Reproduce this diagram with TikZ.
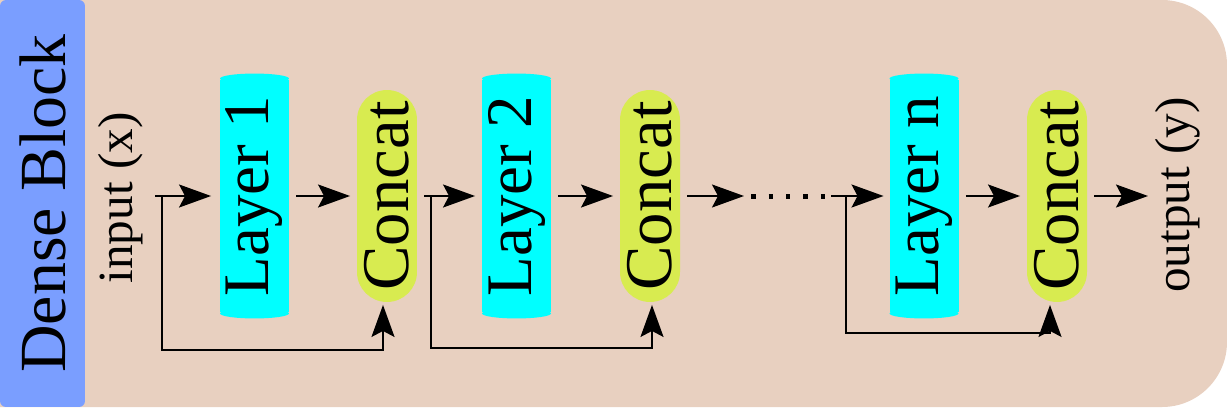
\documentclass[tikz,border=0pt]{standalone}
\usepackage{fontspec}
\setmainfont{Liberation Serif}
\usepackage{tikz}
\usetikzlibrary{arrows.meta,calc}

\definecolor{blockbg}{RGB}{232,208,192}
\definecolor{tabblue}{RGB}{122,158,255}
\definecolor{concatgreen}{RGB}{216,235,80}
\definecolor{layercyan}{RGB}{0,255,255}

\begin{document}
\begin{tikzpicture}[x=0.02cm, y=0.02cm, line width=1.1pt,
    >={Stealth[length=0.64cm,width=0.46cm,inset=0.12cm]},
    layer/.style={fill=layercyan, minimum width=1.38cm, minimum height=4.66cm, inner sep=0pt, font=\fontsize{37}{40}\selectfont},
    concat/.style={fill=concatgreen, rounded corners=0.6cm, minimum width=1.2cm, minimum height=4.24cm, inner sep=0pt, font=\fontsize{38}{40}\selectfont},
    lbl/.style={rotate=90, inner sep=0pt, font=\fontsize{28}{32}\selectfont},
    link/.style={->, shorten <=0.13cm, shorten >=0.12cm},
    dots/.style={line width=0.1cm, dash pattern=on 0.09cm off 0.26cm}]
                      \useasboundingbox (0,0) rectangle (1227,407);
                      \fill[blockbg] (0,0) -- (0,407) -- (1162,407) arc[start angle=90, end angle=0, radius=65] -- (1227,65) arc[start angle=0, end angle=-90, radius=65] -- cycle;
                      \node[fill=tabblue, rounded corners=0.12cm, minimum width=1.7cm, minimum height=8.14cm, inner sep=0pt, font=\fontsize{37.5}{40}\selectfont] (tab) at (42.5,203.5) {\rotatebox{90}{Dense Block}};
                      % layers and concats
                      \node[layer] (l1) at (254.5,211) {\rotatebox{90}{Layer 1}};
                      \node[concat] (c1) at (387,211) {\rotatebox{90}{Concat}};
                      \node[layer] (l2) at (516.5,211) {\rotatebox{90}{Layer 2}};
                      \node[concat] (c2) at (650,211) {\rotatebox{90}{Concat}};
                      \node[layer] (l3) at (924,211) {\rotatebox{90}{Layer n}};
                      \node[concat] (c3) at (1057,211) {\rotatebox{90}{Concat}};
                      \foreach \n in {l1,l2,l3} {
                          \fill[layercyan] (\n.north) ellipse [x radius=0.69cm, y radius=0.1cm];
                          \fill[layercyan] (\n.south) ellipse [x radius=0.69cm, y radius=0.1cm];
                      }
                      \node[lbl] (inlbl) at (121,209) {input (x)};
                      \node[lbl] (outlbl) at (1178,212) {output (y)};
                      \coordinate (in) at (155,211);
                      \coordinate (b1) at (162,211);
                      \coordinate (b2) at (431,211);
                      \coordinate (d1) at (744,211);
                      \coordinate (d2) at (831,211);
                      \coordinate (b3) at (846,211);
                      \coordinate (out) at (1148,211);
                      % main line
                      \draw[->, shorten >=0.16cm] (in) -- (l1);
                      \draw[link] (l1) -- (c1);
                      \draw[link] (c1) -- (l2);
                      \draw[link] (l2) -- (c2);
                      \draw[->, shorten <=0.13cm] (c2) -- (d1);
                      \draw[dots] ([xshift=0.14cm]d1) -- ([xshift=-0.1cm]d2);
                      \draw[->, shorten >=0.1cm] (d2) -- (l3);
                      \draw[link] (l3) -- (c3);
                      \draw[->, shorten <=0.13cm] (c3) -- (out);
                      % skip connections
                      \draw[->, shorten >=0.04cm] (b1) -- ++(0,-154) -| ([xshift=-0.08cm]c1.south);
                      \draw[->, shorten >=0.04cm] (b2) -- ++(0,-152) -| ([xshift=0.04cm]c2.south);
                      \draw[->, shorten >=0.04cm] (b3) -- ++(0,-137) -| ([xshift=-0.14cm]c3.south);
                  \end{tikzpicture}
\end{document}
